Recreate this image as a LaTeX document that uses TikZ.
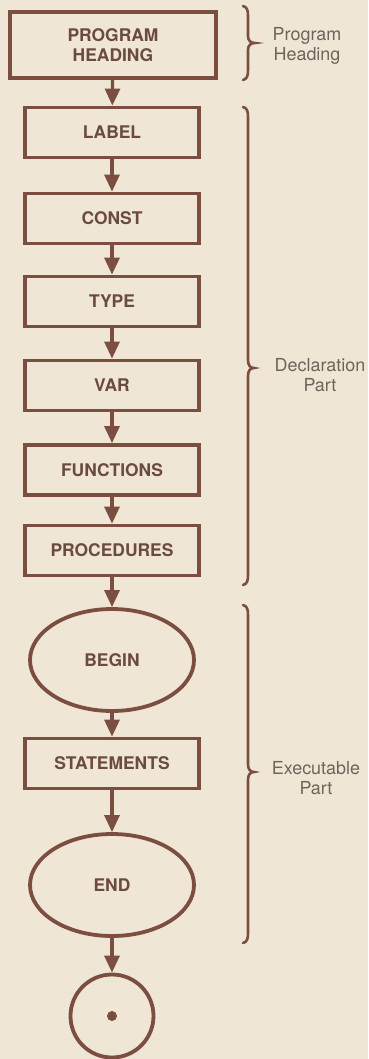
\documentclass[tikz,border=0pt]{standalone}
\usepackage{fontspec}
\setmainfont{TeX Gyre Heros}
\usetikzlibrary{arrows.meta,shapes.geometric}
\definecolor{bgc}{HTML}{EFE6D5}
\definecolor{linec}{HTML}{7C4E3F}
\definecolor{boxtext}{HTML}{6B4A40}
\definecolor{sidetext}{HTML}{6F645D}
\tikzset{
  boxnode/.style={draw=linec, line width=3.8bp, rectangle, minimum width=174bp, minimum height=50bp, inner sep=0pt,
    text=boxtext, font=\bfseries\fontsize{17.5}{20}\selectfont, align=center},
  ovalnode/.style={draw=linec, line width=3.8bp, ellipse, minimum width=164bp, minimum height=102bp, inner sep=0pt,
    text=boxtext, font=\bfseries\fontsize{17.5}{20}\selectfont},
  stopnode/.style={draw=linec, line width=3.8bp, circle, minimum size=83bp, inner sep=0pt},
  dotnode/.style={fill=linec, circle, minimum size=10bp, inner sep=0pt},
  arr/.style={draw=linec, line width=3.2bp, -{Triangle[width=15bp,length=17bp]}},
  bracestyle/.style={draw=linec, line width=2.6bp, line cap=round},
  sidelabel/.style={text=sidetext, font=\fontsize{18}{20}\selectfont, align=center},
}
\begin{document}
\begin{tikzpicture}[x=1bp, y=-1bp]
\useasboundingbox[fill=bgc] (0,0) rectangle (368,1059);
% nodes
\node[boxnode, minimum width=206bp, minimum height=66bp] (ph) at (113,45) {PROGRAM\\HEADING};
\node[boxnode] (label) at (112,132.5) {LABEL};
\node[boxnode] (const) at (112,218.5) {CONST};
\node[boxnode] (type) at (112,301.5) {TYPE};
\node[boxnode] (var) at (112,385.5) {VAR};
\node[boxnode] (func) at (112,470) {FUNCTIONS};
\node[boxnode] (proc) at (112,550.5) {PROCEDURES};
\node[ovalnode] (begin) at (112,660) {BEGIN};
\node[boxnode] (stmt) at (112,763.5) {STATEMENTS};
\node[ovalnode] (end) at (112,885) {END};
\node[stopnode] (stop) at (112,1016) {};
\node[dotnode] (dot) at (stop.center) {};
% connectors
\draw[arr] (ph) -- (label);
\draw[arr] (label) -- (const);
\draw[arr] (const) -- (type);
\draw[arr] (type) -- (var);
\draw[arr] (var) -- (func);
\draw[arr] (func) -- (proc);
\draw[arr] (proc) -- (begin);
\draw[arr] (begin) -- (stmt);
\draw[arr] (stmt) -- (end);
\draw[arr] (end) -- (stop);
% braces
\draw[bracestyle] (243,6) .. controls (247,7) and (248,10) .. (248,16) -- (248,36)
  .. controls (248,41) and (251,43) .. (255,43) .. controls (251,43) and (248,45) .. (248,50)
  -- (248,70) .. controls (248,76) and (247,79) .. (243,80);
\draw[bracestyle] (243,107) .. controls (247,108) and (248,111) .. (248,117) -- (248,360)
  .. controls (248,365) and (250,368) .. (254,368) .. controls (250,368) and (248,371) .. (248,376)
  -- (248,575) .. controls (248,581) and (247,584) .. (243,585);
\draw[bracestyle] (243,605) .. controls (247,606) and (248,609) .. (248,615) -- (248,764)
  .. controls (248,769) and (250,772) .. (254,772) .. controls (250,772) and (248,775) .. (248,780)
  -- (248,933) .. controls (248,939) and (247,942) .. (243,943);
% side labels
\node[sidelabel] (lph) at (307,46) {Program\\Heading};
\node[sidelabel] (ldp) at (320,375) {Declaration\\Part};
\node[sidelabel] (lep) at (316,778) {Executable\\Part};
\end{tikzpicture}
\end{document}
